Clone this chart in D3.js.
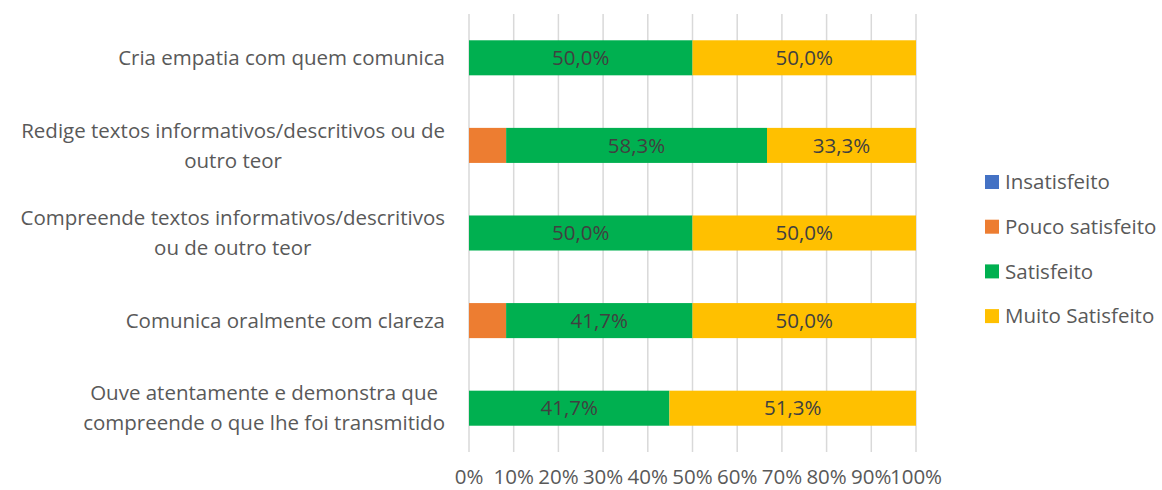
<!DOCTYPE html>
<html>
<head>
<meta charset="utf-8">
<script src="https://cdn.jsdelivr.net/npm/d3@7"></script>
<style>
  html, body { margin: 0; padding: 0; background: #fff; }
  svg { display: block; }
</style>
</head>
<body>
<div id="chart"></div>
<script>
// Categories, top to bottom (label lines as they wrap in the original)
const categories = [
  ["Cria empatia com quem comunica"],
  ["Redige textos informativos/descritivos ou de", "outro teor"],
  ["Compreende textos informativos/descritivos", "ou de outro teor"],
  ["Comunica oralmente com clareza"],
  ["Ouve atentamente e demonstra que ", "compreende o que lhe foi transmitido"]
];

const seriesNames = ["Insatisfeito", "Pouco satisfeito", "Satisfeito", "Muito Satisfeito"];
const colors = ["#4472C4", "#ED7D31", "#00B050", "#FFC000"];

// values per series, in category order (percent)
const insatisfeito = [0, 0, 0, 0, 0];
const poucoSatisfeito = [0, 8.3, 0, 8.3, 0];
const satisfeito = [50.0, 58.3, 50.0, 41.7, 41.7];
const muitoSatisfeito = [50.0, 33.3, 50.0, 50.0, 51.3];

// which series carry data labels
const labelled = [false, false, true, true];

const xTicks = [0, 0.1, 0.2, 0.3, 0.4, 0.5, 0.6, 0.7, 0.8, 0.9, 1];

const width = 1162;
const height = 490;
const margin = {top: 14, right: 246, bottom: 38, left: 469};
const font = "'Open Sans', sans-serif";
const fs = 20.5;

const allSeries = [insatisfeito, poucoSatisfeito, satisfeito, muitoSatisfeito];

// 100% stacked: normalise each category by its total
const rows = categories.map((c, i) => {
  const row = {idx: i};
  seriesNames.forEach((s, j) => row[s] = allSeries[j][i]);
  return row;
});
const stack = d3.stack()
  .keys(seriesNames)
  .offset(d3.stackOffsetExpand);
const stacked = stack(rows);

const x = d3.scaleLinear()
  .domain([0, 1])
  .range([margin.left, width - margin.right]);

const y = d3.scaleBand()
  .domain(d3.range(categories.length))
  .range([margin.top, height - margin.bottom])
  .paddingInner(0.6)
  .paddingOuter(0.3);

const svg = d3.create("svg")
  .attr("width", width)
  .attr("height", height)
  .attr("viewBox", [0, 0, width, height])
  .style("font-family", font);

d3.select("#chart").node().appendChild(svg.node());

// vertical gridlines
svg.append("g")
  .selectAll("line")
  .data(xTicks)
  .join("line")
  .attr("x1", d => x(d))
  .attr("x2", d => x(d))
  .attr("y1", margin.top)
  .attr("y2", height - margin.bottom)
  .attr("stroke", "#d9d9d9")
  .attr("stroke-width", 1.5);

// bars
const layer = svg.append("g")
  .selectAll("g")
  .data(stacked)
  .join("g")
  .attr("fill", (d, i) => colors[i]);

layer.selectAll("rect")
  .data(d => d)
  .join("rect")
  .attr("x", d => x(d[0]))
  .attr("y", (d, i) => y(i))
  .attr("width", d => x(d[1]) - x(d[0]))
  .attr("height", y.bandwidth());

// data labels (raw value, comma decimal)
const fmt = v => d3.format(".1f")(v).replace(".", ",") + "%";
stacked.forEach((s, j) => {
  if (!labelled[j]) return;
  svg.append("g")
    .selectAll("text")
    .data(s)
    .join("text")
    .filter(d => d[1] - d[0] > 0)
    .attr("x", d => (x(d[0]) + x(d[1])) / 2)
    .attr("y", (d, i) => y(d.data.idx) + y.bandwidth() / 2)
    .attr("dy", "0.35em")
    .attr("text-anchor", "middle")
    .attr("fill", "#404040")
    .attr("font-size", fs)
    .text(d => fmt(allSeries[j][d.data.idx]));
});

// x axis tick labels
svg.append("g")
  .selectAll("text")
  .data(xTicks)
  .join("text")
  .attr("x", d => x(d))
  .attr("y", 477)
  .attr("dy", "0.35em")
  .attr("text-anchor", "middle")
  .attr("fill", "#595959")
  .attr("font-size", fs)
  .text(d => d3.format(".0%")(d));

// category labels: block right-aligned to axis, lines centred in the block
const labelRight = 445;
const lineH = 30;
categories.forEach((lines, i) => {
  const g = svg.append("g");
  const texts = g.selectAll("text")
    .data(lines)
    .join("text")
    .attr("fill", "#595959")
    .attr("font-size", fs)
    .attr("text-anchor", "middle")
    .attr("dy", "0.35em")
    .text(d => d);
  const maxW = d3.max(texts.nodes(), n => n.getComputedTextLength());
  const cy = y(i) + y.bandwidth() / 2;
  texts
    .attr("x", labelRight - maxW / 2)
    .attr("y", (d, k) => cy + (k - (lines.length - 1) / 2) * lineH);
});

// legend
const legend = svg.append("g")
  .selectAll("g")
  .data(seriesNames)
  .join("g")
  .attr("transform", (d, i) => `translate(985, ${182 + i * 44.7})`);

legend.append("rect")
  .attr("x", 0)
  .attr("y", -7)
  .attr("width", 14)
  .attr("height", 14)
  .attr("fill", (d, i) => colors[i]);

legend.append("text")
  .attr("x", 20)
  .attr("dy", "0.35em")
  .attr("fill", "#595959")
  .attr("font-size", fs)
  .text(d => d);
</script>
</body>
</html>
